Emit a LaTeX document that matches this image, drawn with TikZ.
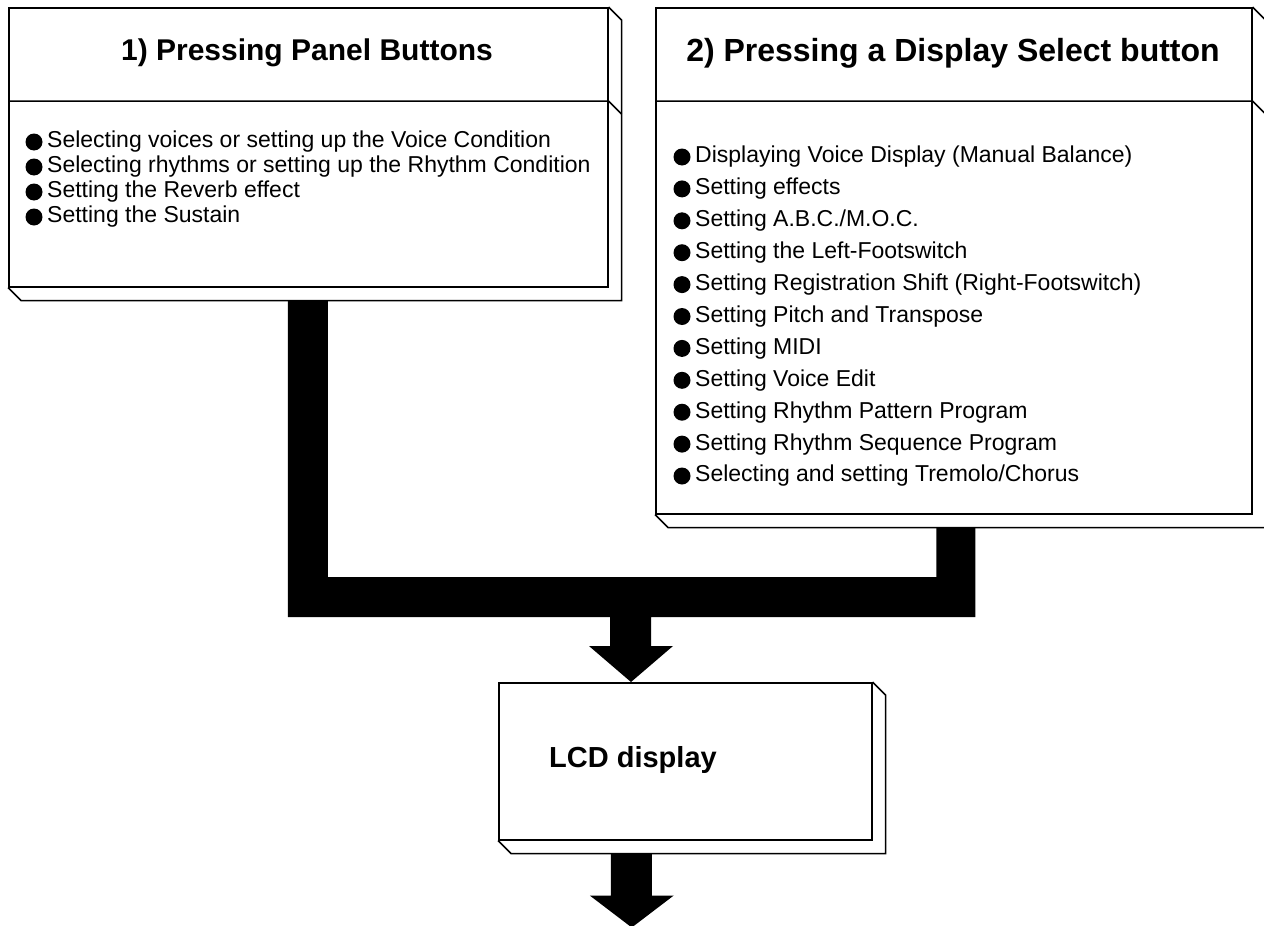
\documentclass[tikz,border=0pt]{standalone}
\usepackage{fontspec}
\setmainfont{Liberation Sans}
\usetikzlibrary{calc}
\begin{document}
\begin{tikzpicture}[x=1pt,y=-1pt,
  face/.style={draw=black,line width=1.5pt,fill=white,rectangle,inner sep=0pt,anchor=north west},
  edge/.style={draw=black,line width=1.5pt,line join=miter},
  bar/.style={fill=black,draw=none},
  title/.style={font=\fontsize{30}{30}\selectfont\bfseries,inner sep=0pt},
  item/.style={font=\fontsize{23}{25}\selectfont,anchor=west,inner sep=0pt},
  bullet/.style={circle,fill=black,draw=none,minimum size=17pt,inner sep=0pt}]
\useasboundingbox (0,0) rectangle (1264,926);
% ---- box 1
\node[face,minimum width=599pt,minimum height=279pt] (b1) at (8,7) {};
\draw[edge] (b1.north east) -- ++(13,13) -- ($(b1.south east)+(13,13)$) -- ($(b1.south west)+(13,13)$) -- (b1.south west);
\coordinate (d1) at (0,101);
\draw[edge] (b1.west |- d1) -- (b1.east |- d1) -- ++(13,13);
\node[title] (t1) at (307,53) {1) Pressing Panel Buttons};
\foreach \t [count=\i] in {{Selecting voices or setting up the Voice Condition},{Selecting rhythms or setting up the Rhythm Condition},{Setting the Reverb effect},{Setting the Sustain}}{
  \node[bullet] (p1-\i) at (34,{142+(\i-1)*25}) {};
  \node[item] (l1-\i) at (47,{142+(\i-1)*25}) {\t};
}
% ---- box 2
\node[face,minimum width=596pt,minimum height=506pt] (b2) at (655,7) {};
\draw[edge] (b2.north east) -- ++(13,13) -- ($(b2.south east)+(13,13)$) -- ($(b2.south west)+(13,13)$) -- (b2.south west);
\draw[edge] (b2.west |- d1) -- (b2.east |- d1) -- ++(13,13);
\node[title,font=\fontsize{32}{32}\selectfont\bfseries] (t2) at (953,53) {2) Pressing a Display Select button};
\foreach \t [count=\i] in {{Displaying Voice Display (Manual Balance)},{Setting effects},{Setting A.B.C./M.O.C.},{Setting the Left-Footswitch},{Setting Registration Shift (Right-Footswitch)},{Setting Pitch and Transpose},{Setting MIDI},{Setting Voice Edit},{Setting Rhythm Pattern Program},{Setting Rhythm Sequence Program},{Selecting and setting Tremolo/Chorus}}{
  \node[bullet] (p2-\i) at (682,{157+(\i-1)*31.9}) {};
  \node[item] (l2-\i) at (695,{157+(\i-1)*31.9}) {\t};
}
% ---- LCD box
\node[face,minimum width=373pt,minimum height=157pt] (lcd) at (498,682) {};
\draw[edge] (lcd.north east) -- ++(13,13) -- ($(lcd.south east)+(13,13)$) -- ($(lcd.south west)+(13,13)$) -- (lcd.south west);
\node[title,font=\fontsize{29}{29}\selectfont\bfseries] (lt) at (633,760) {LCD display};
% ---- connectors
\coordinate (a1) at ($(b1.south)+(-20.5,13)$);
\coordinate (a2) at ($(b2.south)+(-17.5,13)$);
\coordinate (tip) at ($(lcd.north west)+(133,0)$);
\coordinate (jy) at (0,577);
\coordinate (jb) at (0,617);
\fill[bar] (a1) -- ++(40,0) |- (jy -| a2) -- (a2) -- ++(39,0) |- ($(tip)+(20,-65)$) -- ++(0,29) -- ++(22,0) -- (tip) -- ++(-42,-36) -- ++(21,0) |- (jb -| a1) -- cycle;
\coordinate (s2) at ($(lcd.south)+(-74.5,13)$);
\fill[bar] (s2) -- ++(41,0) -- ++(0,42) -- ++(22,0) -- ($(s2)+(21,74)$) coordinate (tip2) -- ++(-42,-32) -- ++(21,0) -- cycle;
\end{tikzpicture}
\end{document}
